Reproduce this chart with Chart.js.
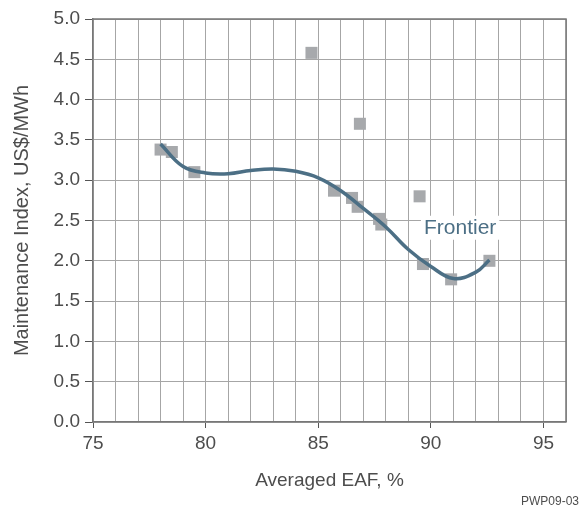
<!DOCTYPE html>
<html>
<head>
<meta charset="utf-8">
<script src="https://cdn.jsdelivr.net/npm/chart.js@4/dist/chart.umd.min.js"></script>
<style>
  html, body { margin: 0; padding: 0; background: #fff; }
  #wrap { width: 582px; height: 512px; position: relative; }
</style>
</head>
<body>
<div id="wrap"><canvas id="chart"></canvas></div>
<script>
"use strict";

// plant data (averaged EAF %, maintenance index)
const eafValues = [78.0, 78.5, 79.5, 84.7, 85.7, 86.5, 86.75, 86.85, 87.7, 87.8, 89.5, 89.65, 90.9, 92.6];
const indexValues = [3.38, 3.35, 3.10, 4.58, 2.87, 2.78, 2.67, 3.70, 2.52, 2.45, 2.80, 1.96, 1.77, 2.00];

// frontier curve
const frontierX = [78.0, 79.0, 80.0, 81.0, 82.0, 83.0, 84.0, 85.0, 86.0, 87.0, 88.0, 89.0, 90.0, 91.0, 92.0, 92.6];
const frontierY = [3.45, 3.17, 3.09, 3.08, 3.12, 3.14, 3.11, 3.03, 2.87, 2.65, 2.42, 2.14, 1.93, 1.78, 1.86, 2.01];

const xMin = 75, xMax = 96;
const yMin = 0, yMax = 5;

const fontFamily = "'Liberation Sans', Arial, sans-serif";
const textColor = "#4d4d4d";
const lineColor = "#4c6f85";
const squareColor = "#a7a9ac";
const gridColor = "#a6a6a6";
const frameColor = "#777777";

const plants = eafValues.map((x, i) => ({ x: x, y: indexValues[i] }));
const frontier = frontierX.map((x, i) => ({ x: x, y: frontierY[i] }));

// top/right frame of the plot box
const frame = {
  id: "frame",
  beforeDatasetsDraw(chart) {
    const a = chart.chartArea;
    const ctx = chart.ctx;
    ctx.save();
    ctx.strokeStyle = frameColor;
    ctx.lineWidth = 1.5;
    ctx.beginPath();
    ctx.moveTo(a.left, a.top);
    ctx.lineTo(a.right, a.top);
    ctx.lineTo(a.right, a.bottom);
    ctx.stroke();
    ctx.restore();
  }
};

// "Frontier" label and the figure code
const notes = {
  id: "notes",
  afterDatasetsDraw(chart) {
    const ctx = chart.ctx;
    const xs = chart.scales.x;
    const ys = chart.scales.y;
    ctx.save();
    ctx.font = "21px " + fontFamily;
    const lx = xs.getPixelForValue(91.3);
    const ly = ys.getPixelForValue(2.41);
    const w = ctx.measureText("Frontier").width;
    ctx.fillStyle = "#ffffff";
    ctx.fillRect(lx - w / 2 - 3, ly - 12, w + 6, 24);
    ctx.fillStyle = lineColor;
    ctx.textAlign = "center";
    ctx.textBaseline = "middle";
    ctx.fillText("Frontier", lx, ly);

    ctx.font = "12px " + fontFamily;
    ctx.fillStyle = textColor;
    ctx.textAlign = "right";
    ctx.fillText("PWP09-03", 579, 502);
    ctx.restore();
  }
};

const config = {
  type: "scatter",
  data: {
    datasets: [
      {
        label: "Frontier",
        type: "line",
        data: frontier,
        borderColor: lineColor,
        borderWidth: 3.5,
        pointRadius: 0,
        tension: 0.4,
        fill: false
      },
      {
        label: "Plants",
        data: plants,
        pointStyle: "rect",
        pointRadius: 8.5,
        backgroundColor: squareColor,
        borderWidth: 0
      }
    ]
  },
  options: {
    responsive: true,
    maintainAspectRatio: false,
    animation: false,
    events: [],
    layout: { padding: { left: 0, right: 16, top: 19, bottom: 0 } },
    plugins: { legend: { display: false }, tooltip: { enabled: false } },
    scales: {
      x: {
        type: "linear",
        min: xMin,
        max: xMax,
        ticks: {
          stepSize: 1,
          color: textColor,
          font: { family: fontFamily, size: 19 },
          padding: 4,
          maxRotation: 0,
          autoSkip: false,
          callback: (v) => (v % 5 === 0 ? v : "")
        },
        grid: {
          color: gridColor,
          lineWidth: 1,
          tickLength: 6,
          tickColor: (c) => (c.tick && c.tick.value % 5 === 0 ? "#555" : "rgba(0,0,0,0)")
        },
        border: { color: frameColor, width: 1.5 },
        title: {
          display: true,
          text: "Averaged EAF, %",
          color: textColor,
          font: { family: fontFamily, size: 19 },
          padding: { top: 0, bottom: 20 }
        },
        afterFit(s) { s.height = 90; }
      },
      y: {
        type: "linear",
        min: yMin,
        max: yMax,
        ticks: {
          stepSize: 0.5,
          color: textColor,
          font: { family: fontFamily, size: 19 },
          padding: 5,
          callback: (v) => v.toFixed(1)
        },
        grid: { color: gridColor, lineWidth: 1, tickLength: 8, tickColor: "#555" },
        border: { color: frameColor, width: 1.5 },
        title: {
          display: true,
          text: "Maintenance Index, US$/MWh",
          color: textColor,
          font: { family: fontFamily, size: 20 },
          padding: { top: 10, bottom: 0 }
        },
        afterFit(s) { s.width = 93; }
      }
    }
  },
  plugins: [frame, notes]
};

new Chart(document.getElementById("chart"), config);
</script>
</body>
</html>
